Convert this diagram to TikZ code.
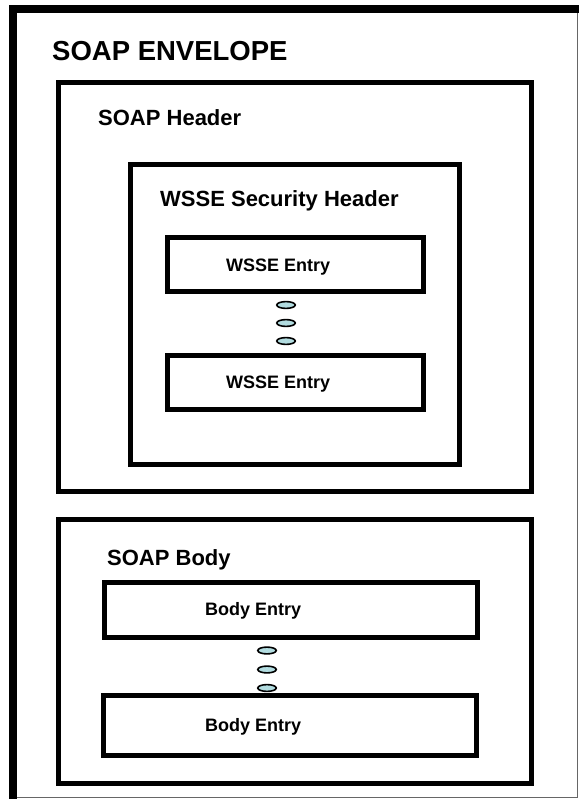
\documentclass[tikz,border=0pt]{standalone}
\usepackage{fontspec}
\setmainfont{Liberation Sans}
\usetikzlibrary{shapes.geometric}
\definecolor{dotfill}{RGB}{178,220,224}
\begin{document}
\begin{tikzpicture}[x=1pt,y=-1pt,
  box/.style={draw=black, line width=5pt, inner sep=0pt, outer sep=0pt, miter limit=10},
  dot/.style={ellipse, draw=black, line width=1.6pt, fill=dotfill, minimum width=18.5pt, minimum height=6.8pt, inner sep=0pt},
  lbl/.style={anchor=base west, inner sep=0pt, font=\bfseries\fontsize{#1}{#1}\selectfont},
  lbl/.default=22]
\useasboundingbox (0,0) rectangle (578,799);

% envelope frame: heavy left and top edges, hairline right and bottom edges
\draw[line width=8pt, line join=miter] (13,801) -- (13,9) -- (580,9);
\draw[line width=1pt, black!60] (17,797.5) -- (577.5,797.5) -- (577.5,13);
\node[lbl=27.5] (envtitle) at (52,61) {SOAP ENVELOPE};

% header block
\node[box, minimum width=473pt, minimum height=409pt] (header) at (295,287) {};
\node[lbl] (headertitle) at (98,126) {SOAP Header};

\node[box, minimum width=329pt, minimum height=300pt] (security) at (295,314.5) {};
\node[lbl] (securitytitle) at (160,207) {WSSE Security Header};

\node[box, minimum width=256pt, minimum height=54pt] (wsse1) at (295.5,264.5) {};
\node[lbl=18] (wsse1text) at (226,272) {WSSE Entry};
\node[dot] (wdot1) at (286,305) {};
\node[dot] (wdot2) at (286,323) {};
\node[dot] (wdot3) at (286,341) {};
\node[box, minimum width=256pt, minimum height=54.5pt] (wsse2) at (295.5,382.25) {};
\node[lbl=18] (wsse2text) at (226,388) {WSSE Entry};

% body block
\node[box, minimum width=473pt, minimum height=263.5pt] (body) at (295,651.25) {};
\node[lbl] (bodytitle) at (107,565) {SOAP Body};

\node[box, minimum width=373pt, minimum height=55pt] (entry1) at (291,610) {};
\node[lbl=18] (entry1text) at (205,615) {Body Entry};
\node[dot] (bdot1) at (267,650.5) {};
\node[dot] (bdot2) at (267,669.5) {};
\node[dot] (bdot3) at (267,688) {};
\node[box, minimum width=373pt, minimum height=60pt] (entry2) at (290,725.5) {};
\node[lbl=18] (entry2text) at (205,731) {Body Entry};
\end{tikzpicture}
\end{document}
